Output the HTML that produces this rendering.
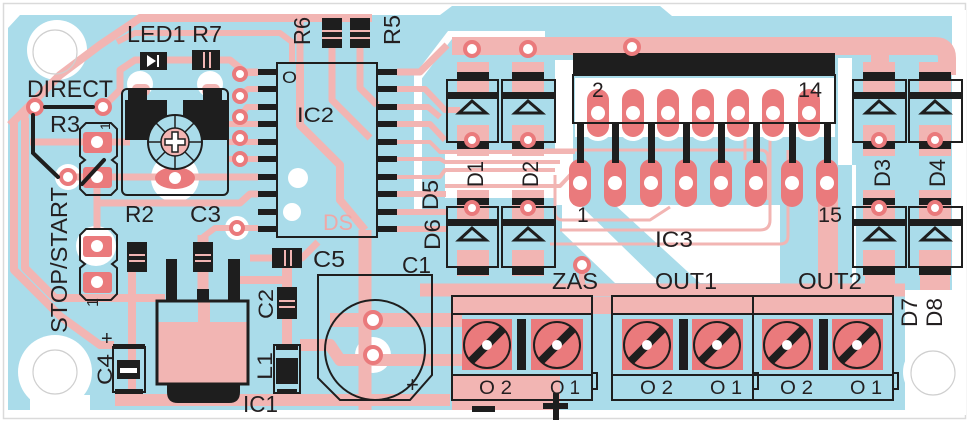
<!DOCTYPE html>
<html><head><meta charset="utf-8"><style>html,body{margin:0;padding:0;background:#fff}svg{display:block}</style></head>
<body>
<svg width="970" height="424" viewBox="0 0 970 424" xmlns="http://www.w3.org/2000/svg" font-family="'Liberation Sans', sans-serif">
<rect width="970" height="424" fill="#fff"/>
<rect x="3.5" y="3.5" width="962" height="415" fill="none" stroke="#dadada" stroke-width="1.5"/>
<!-- board blue -->
<path d="M8 28 L20 15 H440 L452 6 H660 L672 16 H952 V290 H905 V410 H8 Z" fill="#aadcea"/>
<!-- white areas -->
<g fill="#fff">
<circle cx="57" cy="50" r="30"/>
<circle cx="55" cy="372" r="37"/>
<rect x="30" y="395" width="60" height="20"/>
<circle cx="933" cy="372" r="30"/>
<rect x="952" y="10" width="14" height="405"/>
<path d="M562 205 H780 V283 H562 Z"/>
<path d="M575 78 H835 V137 H575 Z"/>
<rect x="555" y="60" width="18" height="145"/>
<rect x="445" y="150" width="112" height="48"/>
<rect x="838" y="58" width="14" height="107"/>
<rect x="852" y="165" width="4" height="120"/>
<circle cx="373" cy="355" r="18"/>
<circle cx="175" cy="178" r="24"/>
<circle cx="140" cy="84" r="13"/>
<circle cx="210" cy="84" r="13"/>
<circle cx="96" cy="246" r="20"/>
<circle cx="68" cy="177" r="13"/>
<circle cx="298" cy="178" r="10"/>
<circle cx="292" cy="212" r="9"/>
<circle cx="237" cy="228" r="12"/>
</g>
<path d="M418 210 V77 L450 35 H545" fill="none" stroke="#fff" stroke-width="8"/>
<!-- blue diagonals in white region -->
<g fill="#aadcea">
<polygon points="580,205 615,205 700,283 660,283"/>
<polygon points="562,232 562,283 615,283"/>
<rect x="780" y="163" width="23" height="122"/>
<rect x="840" y="165" width="12" height="120"/>
</g>
<!-- pink traces -->
<g fill="none" stroke="#f2b5b3" stroke-linejoin="round">
<path d="M10 125 L60 75 L100 45 L140 18 H372" stroke-width="8"/>
<path d="M117 42 L135 33 H280 L292 42 V63" stroke-width="6"/>
<path d="M14 123 V270 L60 316 L100 345 H114" stroke-width="8"/>
<path d="M25 118 V268 L55 298 H165" stroke-width="8"/>
<path d="M25 118 Q25 107 35 107" stroke-width="7"/>
<path d="M103 107 L120 90 V70 L135 60 H230 L245 72 H258" stroke-width="7"/>
<path d="M30 142 H130" stroke-width="7"/>
<path d="M68 177 H258" stroke-width="7"/>
<path d="M97 180 V230" stroke-width="7"/>
<path d="M97 203 H240 L250 194 H258" stroke-width="7"/>
<path d="M228 142 H258 M228 159 H258 M228 124 H258 M240 73 H258 M240 95 L248 89 H258 M240 117 L247 107 H258 M240 138 H248" stroke-width="6"/>
<path d="M237 228 H258" stroke-width="6"/>
<path d="M132 245 V400" stroke-width="8"/>
<path d="M115 400 H450" stroke-width="12"/>
<path d="M203 235 V300" stroke-width="11"/>
<path d="M203 237 L215 228 H237" stroke-width="6"/>
<path d="M240 280 H287" stroke-width="8"/>
<path d="M287 250 V345" stroke-width="10"/>
<path d="M287 392 V405" stroke-width="10"/>
<path d="M250 258 H302 L318 242" stroke-width="7"/>
<path d="M365 230 V410" stroke-width="13"/>
<path d="M330 320 H462" stroke-width="14"/>
<path d="M300 345 H330 L340 360 H462" stroke-width="12"/>
<path d="M300 20 V63" stroke-width="7"/>
<path d="M300 63 V125 L340 165 V200 L365 230" stroke-width="8"/>
<path d="M332 48 V100 L370 138" stroke-width="7"/>
<path d="M360 48 V88 L377 105" stroke-width="7"/>
<path d="M397 72 H420 L447 45" stroke-width="7"/>
<path d="M397 89 H425 L445 110 H460" stroke-width="6"/>
<path d="M397 107 H428 L440 117" stroke-width="6"/>
<path d="M397 124 H430 L445 140" stroke-width="6"/>
<path d="M397 142 H430 L440 152 H575" stroke-width="4"/>
<path d="M397 159 H440 L445 162 H560" stroke-width="4"/>
<path d="M397 177 H440 L445 170 H555" stroke-width="4"/>
<path d="M397 194 H446 M397 212 H446 M397 229 H446" stroke-width="6"/>
<path d="M445 186 H560 L575 170" stroke-width="4"/>
<path d="M452 46 H935 Q947 46 947 58 V75" stroke-width="18"/>
<path d="M880 50 V75" stroke-width="18"/>
<path d="M545 150 H760 Q768 150 768 158 V200" stroke-width="3"/>
<path d="M555 175 V212 Q555 220 563 220 H650 L670 207" stroke-width="3"/>
<path d="M560 230 H760 Q770 230 770 220 V140" stroke-width="3"/>
<path d="M550 244 H780 Q788 244 788 236 V150" stroke-width="3"/>
<path d="M745 90 V160" stroke-width="3"/>
<path d="M828 195 V290" stroke-width="20"/>
<path d="M420 290 H905" stroke-width="13"/>
<path d="M880 255 V290 M935 255 V290" stroke-width="30"/>
<path d="M582 265 V290" stroke-width="6"/>
</g>
<g fill="#f2b5b3">
<rect x="452" y="297" width="441" height="17"/>
<rect x="452" y="376" width="108" height="34"/>
</g>
<!-- Diodes pink pads -->
<g fill="#f2b5b3">
<rect x="457" y="62" width="32" height="30"/><rect x="457" y="125" width="32" height="31"/>
<rect x="512" y="62" width="32" height="30"/><rect x="512" y="125" width="32" height="31"/>
<rect x="863" y="62" width="32" height="30"/><rect x="863" y="125" width="32" height="31"/>
<rect x="919" y="62" width="32" height="30"/><rect x="919" y="125" width="32" height="31"/>
<rect x="457" y="190" width="32" height="32"/><rect x="457" y="250" width="32" height="26"/>
<rect x="512" y="190" width="32" height="32"/><rect x="512" y="250" width="32" height="26"/>
<rect x="863" y="190" width="32" height="32"/><rect x="863" y="250" width="32" height="26"/>
<rect x="919" y="190" width="32" height="32"/><rect x="919" y="250" width="32" height="26"/>
</g>
<!-- IC3 pads -->
<g fill="#fff">
<rect x="583" y="85" width="30" height="56" rx="15"/><rect x="618" y="85" width="30" height="56" rx="15"/><rect x="653" y="85" width="30" height="56" rx="15"/><rect x="688" y="85" width="30" height="56" rx="15"/><rect x="723" y="85" width="30" height="56" rx="15"/><rect x="758" y="85" width="30" height="56" rx="15"/><rect x="794" y="85" width="30" height="56" rx="15"/>
</g>
<g fill="#ea7a7c">
<rect x="587" y="89" width="22" height="48" rx="11"/><rect x="622" y="89" width="22" height="48" rx="11"/><rect x="657" y="89" width="22" height="48" rx="11"/><rect x="692" y="89" width="22" height="48" rx="11"/><rect x="727" y="89" width="22" height="48" rx="11"/><rect x="762" y="89" width="22" height="48" rx="11"/><rect x="798" y="89" width="22" height="48" rx="11"/>
<rect x="569" y="159" width="22" height="48" rx="11"/><rect x="604" y="159" width="22" height="48" rx="11"/><rect x="640" y="159" width="22" height="48" rx="11"/><rect x="675" y="159" width="22" height="48" rx="11"/><rect x="710" y="159" width="22" height="48" rx="11"/><rect x="745" y="159" width="22" height="48" rx="11"/><rect x="781" y="159" width="22" height="48" rx="11"/><rect x="816" y="159" width="22" height="48" rx="11"/>
</g>
<g fill="#fff">
<circle cx="598" cy="113" r="7"/><circle cx="633" cy="113" r="7"/><circle cx="668" cy="113" r="7"/><circle cx="703" cy="113" r="7"/><circle cx="738" cy="113" r="7"/><circle cx="773" cy="113" r="7"/><circle cx="809" cy="113" r="7"/>
<circle cx="580" cy="183" r="7"/><circle cx="615" cy="183" r="7"/><circle cx="651" cy="183" r="7"/><circle cx="686" cy="183" r="7"/><circle cx="721" cy="183" r="7"/><circle cx="756" cy="183" r="7"/><circle cx="792" cy="183" r="7"/><circle cx="827" cy="183" r="7"/>
</g>
<!-- IC3 silkscreen -->
<rect x="573" y="53" width="262" height="22" fill="#1e1e1e"/>
<rect x="573" y="75" width="262" height="48" fill="none" stroke="#1e1e1e" stroke-width="2"/>
<g fill="#1e1e1e">
<rect x="577" y="123" width="7" height="40"/><rect x="612" y="123" width="7" height="40"/><rect x="648" y="123" width="7" height="40"/><rect x="683" y="123" width="7" height="40"/><rect x="718" y="123" width="7" height="40"/><rect x="753" y="123" width="7" height="40"/><rect x="789" y="123" width="7" height="40"/><rect x="824" y="123" width="7" height="40"/>
</g>
<!-- terminal pads -->
<g fill="#ea7a7c">
<rect x="462" y="319" width="50" height="51"/><rect x="531" y="319" width="52" height="51"/>
<rect x="622" y="319" width="51" height="51"/><rect x="692" y="319" width="51" height="51"/>
<rect x="762" y="319" width="51" height="51"/><rect x="832" y="319" width="51" height="51"/>
</g>
<g stroke="#1e1e1e" fill="none">
<g stroke-width="2">
<circle cx="487" cy="345" r="23"/><circle cx="557" cy="345" r="23"/><circle cx="647" cy="345" r="23"/><circle cx="717" cy="345" r="23"/><circle cx="787" cy="345" r="23"/><circle cx="857" cy="345" r="23"/>
</g>
<g stroke-width="8">
<path d="M471 361 L503 329 M541 361 L573 329 M631 361 L663 329 M701 361 L733 329 M771 361 L803 329 M841 361 L873 329"/>
</g>
<g stroke-width="2">
<rect x="452" y="296" width="140" height="104"/><path d="M452 314 H592 M452 375 H592"/>
<rect x="612" y="296" width="281" height="104"/><path d="M753 296 V400 M612 314 H893 M612 375 H893"/>
<path d="M592 373 H597 V389 H592 M753 373 H758 V389 H753 M893 373 H898 V389 H893"/>
</g>
</g>
<g fill="#fff">
<circle cx="487" cy="345" r="5"/><circle cx="557" cy="345" r="5"/><circle cx="647" cy="345" r="5"/><circle cx="717" cy="345" r="5"/><circle cx="787" cy="345" r="5"/><circle cx="857" cy="345" r="5"/>
</g>
<g fill="#1e1e1e">
<rect x="517" y="319" width="9" height="51"/><rect x="679" y="319" width="9" height="51"/><rect x="819" y="319" width="9" height="51"/>
<rect x="472" y="406" width="23" height="6"/>
<rect x="543" y="403" width="25" height="6"/><rect x="553" y="393" width="6" height="27"/>
</g>
<!-- diodes silkscreen -->
<g fill="#1e1e1e">
<rect x="457" y="72" width="32" height="7"/><rect x="447" y="92" width="51" height="7"/><rect x="457" y="142" width="32" height="7"/>
<rect x="512" y="72" width="32" height="7"/><rect x="502" y="92" width="53" height="7"/><rect x="512" y="142" width="32" height="7"/>
<rect x="863" y="72" width="32" height="7"/><rect x="853" y="92" width="53" height="7"/><rect x="863" y="142" width="32" height="7"/>
<rect x="919" y="72" width="32" height="7"/><rect x="909" y="92" width="53" height="7"/><rect x="919" y="142" width="32" height="7"/>
<rect x="457" y="198" width="32" height="7"/><rect x="447" y="219" width="51" height="7"/><rect x="457" y="268" width="32" height="7"/>
<rect x="512" y="198" width="32" height="7"/><rect x="502" y="219" width="53" height="7"/><rect x="512" y="268" width="32" height="7"/>
<rect x="863" y="198" width="32" height="7"/><rect x="853" y="219" width="53" height="7"/><rect x="863" y="268" width="32" height="7"/>
<rect x="919" y="198" width="32" height="7"/><rect x="909" y="219" width="53" height="7"/><rect x="919" y="268" width="32" height="7"/>
</g>
<g fill="none" stroke="#1e1e1e" stroke-width="2">
<rect x="447" y="80" width="51" height="62"/><rect x="502" y="80" width="53" height="62"/>
<rect x="853" y="80" width="53" height="62"/><rect x="909" y="80" width="53" height="62"/>
<rect x="447" y="207" width="51" height="60"/><rect x="502" y="207" width="53" height="60"/>
<rect x="853" y="207" width="53" height="60"/><rect x="909" y="207" width="53" height="60"/>
</g>
<g fill="none" stroke="#1e1e1e" stroke-width="3" stroke-linejoin="miter">
<polygon points="459,113 486,113 472,101"/><polygon points="515,113 542,113 528,101"/>
<polygon points="866,113 893,113 879,101"/><polygon points="922,113 949,113 935,101"/>
<polygon points="459,240 486,240 472,228"/><polygon points="515,240 542,240 528,228"/>
<polygon points="866,240 893,240 879,228"/><polygon points="922,240 949,240 935,228"/>
</g>
<!-- vias -->
<g fill="#fff" stroke="#ea7a7c" stroke-width="4">
<circle cx="472" cy="49" r="7"/><circle cx="528" cy="49" r="7"/><circle cx="632" cy="47" r="7"/>
<circle cx="472" cy="140" r="6"/><circle cx="528" cy="140" r="6"/><circle cx="879" cy="140" r="6"/><circle cx="935" cy="140" r="6"/>
<circle cx="472" cy="208" r="6"/><circle cx="528" cy="208" r="6"/><circle cx="879" cy="208" r="6"/><circle cx="935" cy="208" r="6"/>
<circle cx="582" cy="265" r="7"/>
<circle cx="240" cy="74" r="6"/><circle cx="240" cy="96" r="6"/><circle cx="240" cy="117" r="6"/><circle cx="240" cy="138" r="6"/><circle cx="240" cy="159" r="6"/><circle cx="237" cy="228" r="6"/>
<circle cx="35" cy="107" r="7"/><circle cx="103" cy="107" r="7"/><circle cx="68" cy="177" r="7"/>
<circle cx="373" cy="320" r="8"/><circle cx="373" cy="355" r="8"/>
</g>
<!-- IC2 -->
<rect x="277" y="63" width="100" height="174" fill="none" stroke="#1e1e1e" stroke-width="2"/>
<g fill="#1e1e1e">
<rect x="258" y="69" width="19" height="6"/><rect x="258" y="86" width="19" height="6"/><rect x="258" y="104" width="19" height="6"/><rect x="258" y="121" width="19" height="6"/><rect x="258" y="139" width="19" height="6"/><rect x="258" y="156" width="19" height="6"/><rect x="258" y="174" width="19" height="6"/><rect x="258" y="191" width="19" height="6"/><rect x="258" y="209" width="19" height="6"/><rect x="258" y="226" width="19" height="6"/>
<rect x="377" y="69" width="20" height="6"/><rect x="377" y="86" width="20" height="6"/><rect x="377" y="104" width="20" height="6"/><rect x="377" y="121" width="20" height="6"/><rect x="377" y="139" width="20" height="6"/><rect x="377" y="156" width="20" height="6"/><rect x="377" y="174" width="20" height="6"/><rect x="377" y="191" width="20" height="6"/><rect x="377" y="209" width="20" height="6"/><rect x="377" y="226" width="20" height="6"/>
</g>
<!-- SMD parts -->
<g fill="#1e1e1e">
<rect x="322" y="18" width="20" height="30"/><rect x="350" y="18" width="20" height="30"/>
<rect x="140" y="52" width="27" height="18"/>
<rect x="192" y="50" width="28" height="20"/>
<rect x="127" y="242" width="20" height="30"/>
<rect x="193" y="242" width="20" height="30"/>
<rect x="277" y="287" width="20" height="32"/>
<rect x="272" y="248" width="30" height="20"/>
</g>
<g fill="#f2b5b3">
<rect x="322" y="30" width="20" height="2"/><rect x="322" y="37" width="20" height="2"/>
<rect x="350" y="30" width="20" height="2"/><rect x="350" y="37" width="20" height="2"/>
<rect x="203" y="52" width="2" height="16"/><rect x="209" y="52" width="2" height="16"/>
<rect x="129" y="254" width="16" height="2"/><rect x="129" y="260" width="16" height="2"/>
<rect x="195" y="254" width="16" height="2"/><rect x="195" y="260" width="16" height="2"/>
<rect x="279" y="300" width="16" height="2"/><rect x="279" y="306" width="16" height="2"/>
<rect x="284" y="250" width="2" height="16"/><rect x="290" y="250" width="2" height="16"/>
</g>
<polygon points="147,55 147,67 156,61" fill="#fff"/><rect x="157" y="55" width="2" height="12" fill="#fff"/>
<!-- L1, C4 -->
<g fill="none" stroke="#1e1e1e" stroke-width="2">
<rect x="274" y="345" width="26" height="48"/>
<rect x="113" y="347" width="32" height="45"/>
</g>
<g fill="#1e1e1e">
<rect x="276" y="345" width="22" height="5"/><rect x="276" y="358" width="22" height="26"/><rect x="277" y="389" width="20" height="5"/>
<rect x="113" y="344" width="32" height="5"/><rect x="117" y="360" width="23" height="19"/><rect x="115" y="389" width="28" height="5"/>
</g>
<rect x="120" y="368" width="17" height="5" fill="#fff"/>
<!-- IC1 -->
<rect x="157" y="301" width="91" height="83" fill="#aadcea"/>
<rect x="157" y="322" width="91" height="62" fill="#f2b5b3"/>
<rect x="198" y="301" width="12" height="21" fill="#f2b5b3"/>
<rect x="157" y="301" width="91" height="83" fill="none" stroke="#1e1e1e" stroke-width="3"/>
<g fill="#1e1e1e">
<rect x="166" y="259" width="11" height="42"/><rect x="197" y="289" width="12" height="12"/><rect x="228" y="259" width="12" height="42"/>
<path d="M167 384 H240 V392 Q240 403 229 403 H178 Q167 403 167 392 Z"/>
</g>
<!-- C1 -->
<path d="M318 275 H432 V375 L410 400 H340 L318 378 Z" fill="none" stroke="#1e1e1e" stroke-width="2"/>
<circle cx="375" cy="350" r="50" fill="none" stroke="#1e1e1e" stroke-width="2"/>
<g fill="#fff"><circle cx="373" cy="320" r="5"/><circle cx="373" cy="355" r="5"/></g>
<!-- R1 trimmer -->
<g fill="#f2b5b3"><rect x="132" y="84" width="18" height="12" rx="5"/><rect x="202" y="84" width="18" height="12" rx="5"/></g>
<ellipse cx="175" cy="178" rx="20" ry="11" fill="#ea7a7c"/>
<circle cx="175" cy="178" r="6" fill="#fff"/>
<rect x="122" y="89" width="106" height="106" rx="5" fill="none" stroke="#1e1e1e" stroke-width="2"/>
<g fill="#1e1e1e">
<rect x="125" y="100" width="42" height="40"/><rect x="128" y="89" width="19" height="12"/>
<rect x="183" y="100" width="44" height="40"/><rect x="203" y="89" width="19" height="12"/>
</g>
<circle cx="175" cy="142" r="27" fill="#aadcea" stroke="#1e1e1e" stroke-width="2"/>
<circle cx="175" cy="142" r="14" fill="#f2b5b3" stroke="#1e1e1e" stroke-width="1.5"/>
<g stroke="#1e1e1e" stroke-width="1.5">
<path d="M175 115 V128 M175 156 V169 M148 142 H161 M189 142 H202 M156 123 L165 132 M194 123 L185 132 M156 161 L165 152 M194 161 L185 152"/>
</g>
<path d="M172 132 H178 V139 H185 V145 H178 V152 H172 V145 H165 V139 H172 Z" fill="#fff" stroke="#1e1e1e" stroke-width="1.5"/>
<!-- jumpers -->
<g fill="#ea7a7c">
<rect x="83" y="132" width="29" height="21" rx="3"/><rect x="83" y="167" width="29" height="21" rx="3"/>
<rect x="83" y="236" width="29" height="21" rx="3"/><rect x="83" y="272" width="29" height="21" rx="3"/>
</g>
<g fill="#fff"><circle cx="97" cy="142" r="6"/><circle cx="97" cy="177" r="6"/><circle cx="97" cy="246" r="6"/><circle cx="97" cy="282" r="6"/></g>
<g fill="none" stroke="#1e1e1e" stroke-width="2">
<path d="M86 123 H111 L117 129 V156 L112 160 L117 164 V189 L111 195 H86 L80 189 V164 L85 160 L80 156 V129 Z"/>
<path d="M86 229 H111 L117 235 V260 L112 264 L117 268 V294 L111 300 H86 L80 294 V268 L85 264 L80 260 V235 Z"/>
</g>
<g stroke="#1e1e1e" stroke-width="4" fill="none" stroke-linecap="round">
<path d="M45 107 H93"/>
<path d="M33 115 V153 L58 177"/>
<path d="M82 184 L104 160"/>
</g>
<!-- text -->
<g fill="#231f20" font-size="23">
<text x="127" y="42" textLength="95" lengthAdjust="spacingAndGlyphs">LED1 R7</text>
<text x="27" y="97" textLength="86" lengthAdjust="spacingAndGlyphs" font-size="24">DIRECT</text>
<text x="50" y="132" textLength="30" lengthAdjust="spacingAndGlyphs">R3</text>
<text x="125" y="222" textLength="29" lengthAdjust="spacingAndGlyphs">R2</text>
<text x="190" y="222" textLength="31" lengthAdjust="spacingAndGlyphs">C3</text>
<text x="297" y="122" textLength="37" lengthAdjust="spacingAndGlyphs" font-size="21">IC2</text>
<text x="282" y="83" textLength="15" lengthAdjust="spacingAndGlyphs" font-size="17">O</text>
<text x="313" y="267" textLength="32" lengthAdjust="spacingAndGlyphs">C5</text>
<text x="402" y="273" textLength="29" lengthAdjust="spacingAndGlyphs">C1</text>
<text x="243" y="412" textLength="35" lengthAdjust="spacingAndGlyphs">IC1</text>
<text x="552" y="289" textLength="46" lengthAdjust="spacingAndGlyphs">ZAS</text>
<text x="655" y="289" textLength="62" lengthAdjust="spacingAndGlyphs">OUT1</text>
<text x="798" y="289" textLength="64" lengthAdjust="spacingAndGlyphs">OUT2</text>
<text x="655" y="247" textLength="38" lengthAdjust="spacingAndGlyphs" font-size="22">IC3</text>
<text x="577" y="222" font-size="21">1</text>
<text x="818" y="222" textLength="24" lengthAdjust="spacingAndGlyphs" font-size="21">15</text>
<text x="592" y="97" font-size="21">2</text>
<text x="798" y="97" textLength="24" lengthAdjust="spacingAndGlyphs" font-size="21">14</text>
<g font-size="19">
<text x="479" y="394" textLength="33" lengthAdjust="spacingAndGlyphs">O 2</text>
<text x="550" y="394" textLength="30" lengthAdjust="spacingAndGlyphs">O 1</text>
<text x="640" y="394" textLength="33" lengthAdjust="spacingAndGlyphs">O 2</text>
<text x="710" y="394" textLength="32" lengthAdjust="spacingAndGlyphs">O 1</text>
<text x="780" y="394" textLength="33" lengthAdjust="spacingAndGlyphs">O 2</text>
<text x="850" y="394" textLength="32" lengthAdjust="spacingAndGlyphs">O 1</text>
</g>
<text x="101" y="345" font-size="20">+</text>
<text x="406" y="392" font-size="22">+</text>
<text transform="rotate(-90 310 45)" x="310" y="45" textLength="28" lengthAdjust="spacingAndGlyphs">R6</text>
<text transform="rotate(-90 400 45)" x="400" y="45" textLength="30" lengthAdjust="spacingAndGlyphs">R5</text>
<text transform="rotate(-90 67 333)" x="67" y="333" textLength="146" lengthAdjust="spacingAndGlyphs">STOP/START</text>
<text transform="rotate(-90 483 187)" x="483" y="187" textLength="26" lengthAdjust="spacingAndGlyphs" font-size="22">D1</text>
<text transform="rotate(-90 538 187)" x="538" y="187" textLength="26" lengthAdjust="spacingAndGlyphs" font-size="22">D2</text>
<text transform="rotate(-90 438 210)" x="438" y="210" textLength="30" lengthAdjust="spacingAndGlyphs" font-size="22">D5</text>
<text transform="rotate(-90 440 250)" x="440" y="250" textLength="31" lengthAdjust="spacingAndGlyphs" font-size="22">D6</text>
<text transform="rotate(-90 890 187)" x="890" y="187" textLength="28" lengthAdjust="spacingAndGlyphs" font-size="22">D3</text>
<text transform="rotate(-90 945 187)" x="945" y="187" textLength="28" lengthAdjust="spacingAndGlyphs" font-size="22">D4</text>
<text transform="rotate(-90 917 327)" x="917" y="327" textLength="29" lengthAdjust="spacingAndGlyphs" font-size="22">D7</text>
<text transform="rotate(-90 942 327)" x="942" y="327" textLength="29" lengthAdjust="spacingAndGlyphs" font-size="22">D8</text>
<text transform="rotate(-90 273 319)" x="273" y="319" textLength="30" lengthAdjust="spacingAndGlyphs" font-size="21">C2</text>
<text transform="rotate(-90 112 385)" x="112" y="385" textLength="31" lengthAdjust="spacingAndGlyphs" font-size="21">C4</text>
<text transform="rotate(-90 272 380)" x="272" y="380" textLength="28" lengthAdjust="spacingAndGlyphs" font-size="21">L1</text>
<text transform="rotate(-90 98 307)" x="98" y="307" font-size="16">1</text>
<text transform="rotate(-90 110 130)" x="110" y="130" font-size="14">1</text>
</g>
<text x="323" y="230" textLength="30" lengthAdjust="spacingAndGlyphs" font-size="22" fill="#efa8a7">DS</text>
<!-- mounting holes -->
<g fill="none" stroke="#cfcfcf" stroke-width="1.2">
<circle cx="55" cy="52" r="22"/><circle cx="55" cy="372" r="22"/><circle cx="933" cy="373" r="22"/>
</g>
</svg>
</body></html>
